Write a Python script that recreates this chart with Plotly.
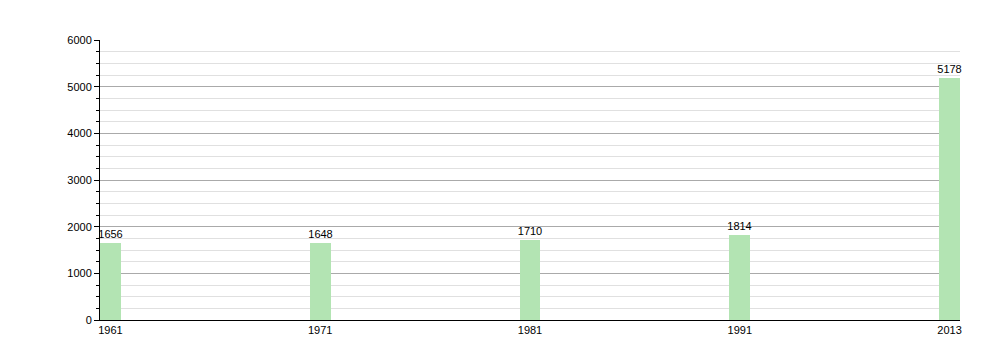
import plotly.graph_objects as go

years = ["1961", "1971", "1981", "1991", "2013"]
population = [1656, 1648, 1710, 1814, 5178]

fig = go.Figure()
fig.add_trace(go.Bar(
    x=years, y=population,
    width=0.1,
    marker=dict(color="#b3e4b3", line=dict(width=0)),
    text=[str(v) for v in population],
    textposition="outside",
    constraintext="none",
    textfont=dict(family="Liberation Sans, Arial, sans-serif", size=11, color="#000"),
    cliponaxis=False,
))

fig.update_layout(
    width=1000, height=360,
    margin=dict(l=100, r=40, t=40, b=40),
    paper_bgcolor="white", plot_bgcolor="white",
    font=dict(family="Liberation Sans, Arial, sans-serif", size=11, color="#000"),
    showlegend=False,
    xaxis=dict(
        type="category", range=[-0.05, 4.05],
        showline=True, linecolor="#000", linewidth=1,
        ticks="", showgrid=False, zeroline=False,
        tickfont=dict(size=11),
    ),
    yaxis=dict(
        range=[0, 6000], dtick=1000,
        showline=True, linecolor="#000", linewidth=1,
        ticks="outside", ticklen=5, tickcolor="#000",
        showgrid=True, gridcolor="#aaaaaa", gridwidth=1,
        zeroline=False,
        minor=dict(dtick=250, ticks="outside", ticklen=3, tickcolor="#000",
                   showgrid=True, gridcolor="#e0e0e0", gridwidth=1),
        tickfont=dict(size=11),
    ),
    bargap=0,
)

fig.write_html("out.html")
